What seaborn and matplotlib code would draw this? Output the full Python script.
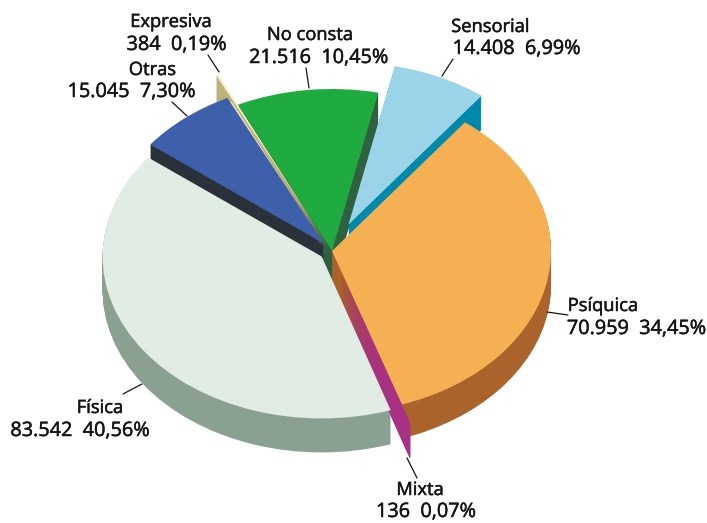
from matplotlib.lines import Line2D
import matplotlib.patheffects as pe
import matplotlib.pyplot as plt
import seaborn as sns

# ====================== datos ======================
CATEGORIAS = ["Sensorial", "Psíquica", "Mixta", "Física", "Otras", "Expresiva", "No consta"]
PERSONAS = [14408, 70959, 136, 83542, 15045, 384, 21516]
ETIQUETAS = ["14.408  6,99%", "70.959  34,45%", "136  0,07%", "83.542  40,56%",
             "15.045  7,30%", "384  0,19%", "21.516  10,45%"]
SEPARACION = [0.18, 0.0, 0.124, 0.058, 0.06, 0.205, 0.0]

COLOR_CARA = ["#9bd3e8", "#f5b053", "#a83186", "#e0ece4", "#3e5faa", "#f5efc8", "#1fab40"]
COLOR_LADO = ["#0089ab", "#aa632a", "#a83186", "#8aa090", "#2a3138", "#bdb27c", "#2f6040"]

# ====================== geometria en pixeles ======================
W, H = 707, 523
CX, CY = 332, 251
RX, RY = 219, 162
FONDO = 34
INICIO = 77.8

# centro en x y linea base de nombre y de valor
POS_NOMBRE = [(490.5, 32), (603, 311), (420, 495), (100, 413), (152.5, 75), (171, 27), (310, 40)]
POS_VALOR = [(516.5, 54), (636.5, 334), (426, 517), (80, 436), (131.5, 97), (176.5, 50), (318.5, 63)]
GUIAS = [((442, 76), (453, 59)), ((547, 312), (568, 315)), ((407, 458), (417, 478)),
         ((142, 384), (123, 394)), ((187, 116), (172, 102)), ((219, 72), (208, 55)),
         ((309, 88), (306, 68))]

sns.set_theme(style="white")
plt.rcParams["font.family"] = ["Open Sans", "DejaVu Sans"]


def dibuja_pastel(ax, colores, bajada=0.0, lado=0.0):
    ax.pie(PERSONAS, explode=SEPARACION, colors=colores, startangle=INICIO, counterclock=False,
           radius=1, center=(lado / RX, -bajada / RY), wedgeprops={"linewidth": 0.0})


def solo(nombre, color):
    return [color if n == nombre else "none" for n in CATEGORIAS]


fig = plt.figure(figsize=(W / 100, H / 100), dpi=100, facecolor="white")
ax = fig.add_axes([0, 0, 1, 1])

# pared lateral: muchas capas del mismo pastel, de abajo arriba
for s in range(FONDO, 0, -1):
    dibuja_pastel(ax, COLOR_LADO, s)
for s in range(FONDO, 0, -1):
    dibuja_pastel(ax, solo("Mixta", COLOR_LADO[2]), s)

# la rendija entre Otras y No consta va rellena: khaki junto al verde, crema junto al azul
for k in range(0, 4):
    dibuja_pastel(ax, solo("Expresiva", COLOR_LADO[5]), 27, 17 - k)
for k in range(4, 8):
    dibuja_pastel(ax, solo("Expresiva", COLOR_CARA[5]), 27, 17 - k)

dibuja_pastel(ax, COLOR_CARA)

ax.set_aspect("auto")
ax.set_xlim(-CX / RX, (W - CX) / RX)
ax.set_ylim(-(H - CY) / RY, CY / RY)
ax.axis("off")

grueso = [pe.withStroke(linewidth=0.35, foreground="#141414")]
for cat, etiqueta, pn, pv, (p0, p1) in zip(CATEGORIAS, ETIQUETAS, POS_NOMBRE, POS_VALOR, GUIAS):
    fig.text(pn[0] / W, 1 - pn[1] / H, cat, ha="center", va="baseline", fontsize=13.2,
             color="#141414", path_effects=grueso)
    fig.text(pv[0] / W, 1 - pv[1] / H, etiqueta, ha="center", va="baseline", fontsize=14.3,
             color="#141414", path_effects=grueso)
    fig.add_artist(Line2D([p0[0] / W, p1[0] / W], [1 - p0[1] / H, 1 - p1[1] / H],
                          color="#141414", linewidth=0.9))

fig.savefig("out.png", dpi=100)
